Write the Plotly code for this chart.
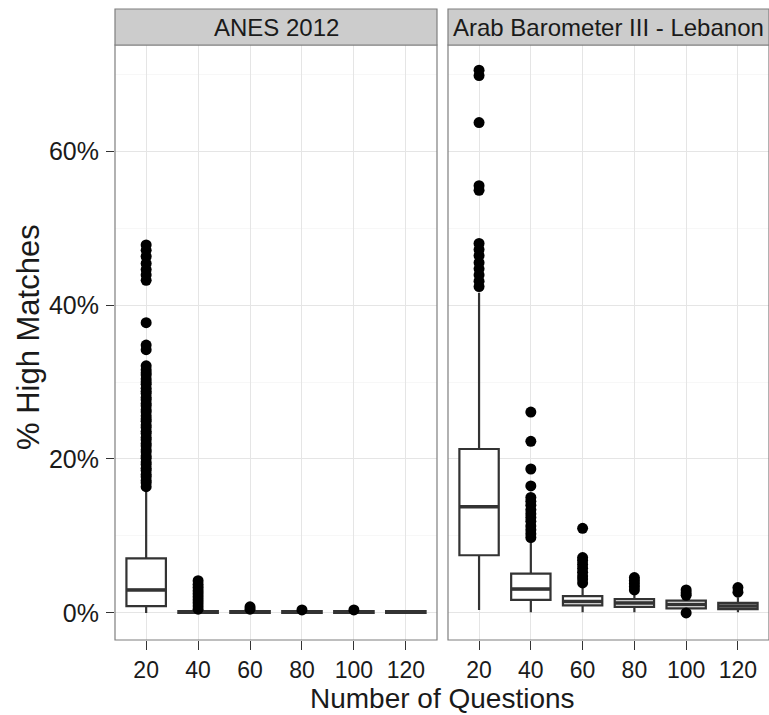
import plotly.graph_objects as go

categories = ["20", "40", "60", "80", "100", "120"]
panels = ["ANES 2012", "Arab Barometer III - Lebanon"]

# ANES 2012 box statistics (% high matches)
anes_lower = [0.0, 0.0, 0.0, 0.0, 0.0, 0.0]
anes_q1 = [0.9, 0.0, 0.0, 0.0, 0.0, 0.0]
anes_median = [3.0, 0.1, 0.1, 0.1, 0.1, 0.1]
anes_q3 = [7.1, 0.25, 0.25, 0.25, 0.25, 0.25]
anes_upper = [15.8, 0.25, 0.25, 0.25, 0.25, 0.25]

anes_out_20 = [47.8, 47.1, 46.3, 45.4, 44.6, 43.9, 43.2, 37.7, 34.8, 34.2,
               32.1, 31.6, 31.2, 30.9, 30.4, 30.0, 29.7, 29.2, 28.8, 28.5,
               28.0, 27.7, 27.2, 26.9, 26.4, 26.1, 25.6, 25.2, 24.9, 24.4,
               24.1, 23.6, 23.3, 22.8, 22.5, 22.0, 21.7, 21.2, 20.9, 20.4,
               20.1, 19.6, 19.3, 18.8, 18.5, 18.0, 17.7, 17.2, 16.9, 16.4]
anes_out_40 = [4.2, 3.7, 3.3, 2.9, 2.5, 2.1, 1.7, 1.3, 0.9, 0.5]
anes_out_60 = [0.8, 0.5]
anes_out_80 = [0.4]
anes_out_100 = [0.4]
anes_out_120 = []

# Arab Barometer III - Lebanon box statistics
arab_lower = [0.4, 0.1, 0.1, 0.1, 0.1, 0.1]
arab_q1 = [7.5, 1.7, 1.0, 0.8, 0.6, 0.5]
arab_median = [13.8, 3.1, 1.5, 1.3, 1.1, 0.9]
arab_q3 = [21.3, 5.1, 2.2, 1.8, 1.6, 1.3]
arab_upper = [41.6, 9.5, 3.4, 2.6, 2.0, 2.0]

arab_out_20 = [70.5, 69.8, 63.7, 55.5, 54.9, 48.0, 47.2, 46.4, 45.5, 44.7, 43.9, 43.1, 42.4]
arab_out_40 = [26.1, 22.3, 18.7, 16.5, 15.0, 14.5, 14.0, 13.4, 12.9, 12.4, 11.9, 11.3, 10.8, 10.3, 9.8]
arab_out_60 = [11.0, 7.2, 6.8, 6.3, 5.8, 5.3, 4.8, 4.4, 3.9]
arab_out_80 = [4.6, 4.2, 3.8, 3.4, 3.0]
arab_out_100 = [3.0, 2.6, 2.3, 0.0]
arab_out_120 = [3.3, 2.7]

y_ticks = [0, 20, 40, 60]
y_tick_labels = ["0%", "20%", "40%", "60%"]
y_minor = [10, 30, 50, 70]

W, H = 769, 715
ML, MR, MT, MB = 115, 0, 45, 75
PW = W - ML - MR
PH = H - MT - MB
dom1 = [0, (437 - ML) / PW]
dom2 = [(448 - ML) / PW, 1.0]

FONT = "Liberation Sans, Arial, sans-serif"
LINE = "#333333"
GRID = "#E5E5E5"
BORDER = "#7F7F7F"
TXT = "#1a1a1a"

fig = go.Figure()

def add_panel(xa, ya, q1, med, q3, lo, up, outs):
    fig.add_trace(go.Box(
        x=categories, q1=q1, median=med, q3=q3, lowerfence=lo, upperfence=up,
        xaxis=xa, yaxis=ya, boxpoints=False, width=0.76,
        fillcolor="white", line=dict(color=LINE, width=2.2),
        whiskerwidth=0, showlegend=False, hoverinfo="skip"))
    # thicker median bar (zero-height box at the median)
    fig.add_trace(go.Box(
        x=categories, q1=med, median=med, q3=med, lowerfence=med, upperfence=med,
        xaxis=xa, yaxis=ya, boxpoints=False, width=0.76,
        fillcolor=LINE, line=dict(color=LINE, width=3.5),
        whiskerwidth=0, showlegend=False, hoverinfo="skip"))
    for cat, vals in zip(categories, outs):
        if not vals:
            continue
        fig.add_trace(go.Scatter(
            x=[cat] * len(vals), y=vals, mode="markers", xaxis=xa, yaxis=ya,
            marker=dict(color="black", size=11, line=dict(width=0)),
            showlegend=False, hoverinfo="skip"))

add_panel("x", "y", anes_q1, anes_median, anes_q3, anes_lower, anes_upper,
          [anes_out_20, anes_out_40, anes_out_60, anes_out_80, anes_out_100, anes_out_120])
add_panel("x2", "y2", arab_q1, arab_median, arab_q3, arab_lower, arab_upper,
          [arab_out_20, arab_out_40, arab_out_60, arab_out_80, arab_out_100, arab_out_120])

y_range = [-3.51, 73.77]
xcommon = dict(type="category", categoryorder="array", categoryarray=categories,
               range=[-0.6, 5.6], showgrid=True, gridcolor=GRID, gridwidth=1,
               zeroline=False, showline=False, ticks="outside", ticklen=9,
               tickwidth=1, tickcolor=LINE, ticklabelstandoff=0,
               tickfont=dict(family=FONT, size=23, color=TXT))
ycommon = dict(range=y_range, showgrid=True, gridcolor=GRID,
               zeroline=False, showline=False,
               minor=dict(tickvals=y_minor, showgrid=True, gridcolor="#F7F7F7", ticks=""))

fig.update_layout(
    width=W, height=H, margin=dict(l=ML, r=MR, t=MT, b=MB, autoexpand=False),
    paper_bgcolor="white", plot_bgcolor="white",
    xaxis=dict(domain=dom1, anchor="y", **xcommon),
    xaxis2=dict(domain=dom2, anchor="y2", **xcommon),
    yaxis=dict(anchor="x", ticks="outside", ticklen=8, tickwidth=1, tickcolor=LINE,
               tickmode="array", tickvals=y_ticks, ticktext=y_tick_labels,
               tickfont=dict(family=FONT, size=25, color=TXT),
               ticklabelstandoff=2, **ycommon),
    yaxis2=dict(anchor="x2", matches="y", tickmode="array", tickvals=y_ticks,
                showticklabels=False, ticks="", **ycommon),
    font=dict(family=FONT),
)

strip_top = 1 + 36 / PH
shapes = []
for d in (dom1, dom2):
    shapes.append(dict(type="rect", xref="paper", yref="paper", x0=d[0], x1=d[1],
                       y0=0, y1=1, line=dict(color=BORDER, width=1.2), fillcolor="rgba(0,0,0,0)", layer="above"))
    shapes.append(dict(type="rect", xref="paper", yref="paper", x0=d[0], x1=d[1],
                       y0=1, y1=strip_top, line=dict(color=BORDER, width=1.2), fillcolor="#CCCCCC"))
fig.update_layout(shapes=shapes)

annotations = []
for d, name in zip((dom1, dom2), panels):
    annotations.append(dict(text=name, xref="paper", yref="paper", x=(d[0] + d[1]) / 2,
                            y=(1 + strip_top) / 2, showarrow=False, xanchor="center", yanchor="middle",
                            font=dict(family=FONT, size=24, color=TXT)))
annotations.append(dict(text="Number of Questions", xref="paper", yref="paper", x=0.5,
                        y=(640 - 698) / PH, showarrow=False, xanchor="center", yanchor="middle",
                        font=dict(family=FONT, size=28, color=TXT)))
annotations.append(dict(text="% High Matches", xref="paper", yref="paper", x=(28 - ML) / PW,
                        y=(640 - 337) / PH, showarrow=False, xanchor="center", yanchor="middle",
                        textangle=-90, font=dict(family=FONT, size=31, color=TXT)))
fig.update_layout(annotations=annotations)

fig.write_html("out.html", config={"displayModeBar": False},
               post_script="document.body.style.margin='0';document.body.style.overflow='hidden';")
